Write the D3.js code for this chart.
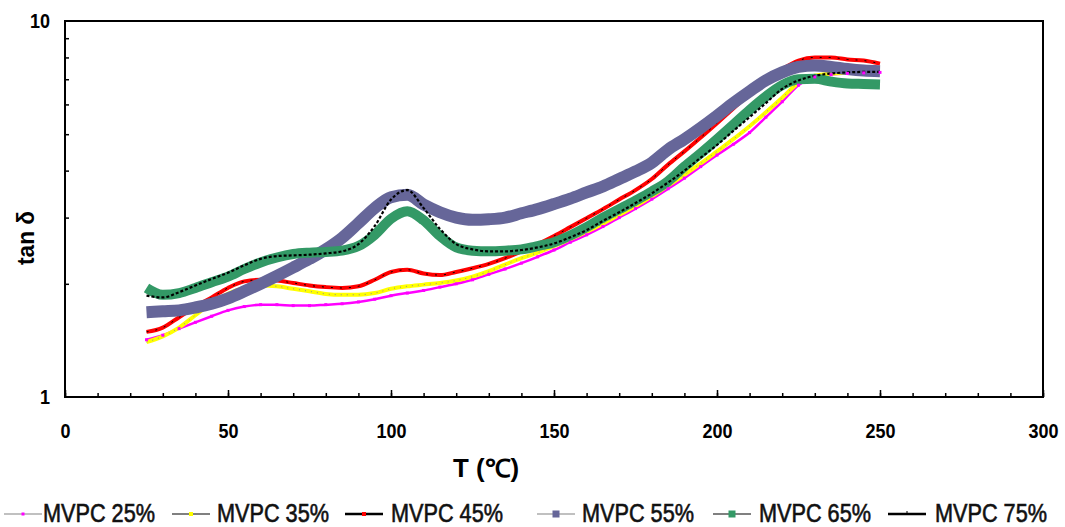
<!DOCTYPE html>
<html><head><meta charset="utf-8">
<script src="https://cdn.jsdelivr.net/npm/d3@7"></script>
<style>
body{margin:0;background:#fff}
.tk text{font-family:"Liberation Sans Narrow","Arial Narrow","Liberation Sans",sans-serif;font-weight:bold;font-size:21px;fill:#000}
</style>
</head><body>
<svg id="c" width="1065" height="527"></svg>
<script>
const temps = [25,30,35,40,45,50,55,60,65,70,75,80,85,90,95,100,105,110,115,120,125,130,135,140,145,150,155,160,165,170,175,180,185,190,195,200,205,210,215,220,225,230,235,240,245,250];
const mvpc25 = [1.42,1.46,1.52,1.58,1.64,1.70,1.74,1.76,1.76,1.75,1.75,1.76,1.77,1.79,1.82,1.86,1.89,1.92,1.96,2.00,2.05,2.12,2.19,2.27,2.36,2.46,2.58,2.70,2.84,3.00,3.17,3.36,3.58,3.82,4.10,4.40,4.70,5.05,5.55,6.10,6.75,7.10,7.20,7.25,7.28,7.30];
const mvpc35 = [1.40,1.45,1.53,1.65,1.78,1.88,1.95,1.98,1.97,1.94,1.91,1.88,1.87,1.87,1.89,1.94,1.97,1.99,2.01,2.04,2.09,2.16,2.25,2.34,2.42,2.52,2.63,2.75,2.89,3.05,3.22,3.42,3.65,3.90,4.18,4.50,4.85,5.25,5.72,6.25,6.85,7.15,7.25,7.28,7.30,7.30];
const mvpc45 = [1.49,1.53,1.63,1.74,1.84,1.95,2.03,2.05,2.04,2.01,1.98,1.96,1.95,1.97,2.05,2.15,2.18,2.13,2.11,2.15,2.20,2.26,2.34,2.44,2.55,2.68,2.83,2.99,3.16,3.35,3.55,3.80,4.15,4.50,4.90,5.35,5.85,6.40,6.95,7.45,7.85,8.00,8.00,7.90,7.85,7.70];
const mvpc55 = [1.68,1.69,1.70,1.73,1.77,1.83,1.91,2.00,2.10,2.21,2.33,2.47,2.65,2.90,3.18,3.40,3.45,3.25,3.10,3.00,2.96,2.97,3.00,3.08,3.16,3.26,3.37,3.50,3.63,3.80,3.98,4.20,4.55,4.85,5.20,5.60,6.05,6.50,6.95,7.30,7.55,7.62,7.55,7.45,7.38,7.35];
const mvpc65 = [1.95,1.87,1.89,1.95,2.02,2.09,2.19,2.28,2.35,2.40,2.42,2.43,2.45,2.52,2.70,2.98,3.12,2.95,2.68,2.50,2.45,2.44,2.45,2.47,2.52,2.58,2.69,2.83,3.00,3.16,3.33,3.52,3.75,4.10,4.45,4.85,5.30,5.80,6.30,6.75,7.00,7.02,6.90,6.82,6.80,6.78];
const mvpc75 = [1.86,1.84,1.90,1.98,2.06,2.14,2.24,2.33,2.37,2.38,2.39,2.41,2.44,2.55,2.85,3.35,3.55,3.18,2.80,2.55,2.47,2.44,2.44,2.46,2.50,2.56,2.66,2.78,2.94,3.10,3.28,3.48,3.72,4.00,4.33,4.68,5.10,5.55,6.05,6.60,6.95,7.15,7.25,7.30,7.32,7.32];
const seriesNames = ["MVPC 25%","MVPC 35%","MVPC 45%","MVPC 55%","MVPC 65%","MVPC 75%"];
const xTickLabels = [0,50,100,150,200,250,300];
const xMinorTicks = [0,10,20,30,40,50,60,70,80,90,100,110,120,130,140,150,160,170,180,190,200,210,220,230,240,250,260,270,280,290,300];
const yTickLabels = [1,10];
const yMinorTicks = [2,3,4,5,6,7,8,9];

const svg = d3.select("#c");
const L = 65, R = 1043, T = 21, B = 397;
const x = d3.scaleLinear().domain([0,300]).range([L,R]);
const y = d3.scaleLog().domain([1,10]).range([B,T]);

const seriesData = [mvpc25,mvpc35,mvpc45,mvpc55,mvpc65,mvpc75].map(vals => temps.map((t,i)=>[t,vals[i]]));
const line = d3.line().x(d=>x(d[0])).y(d=>y(d[1])).curve(d3.curveMonotoneX);

const styles = [
  [{c:"#ff00ff",w:2.5}],
  [{c:"#ffff00",w:4},{c:"#909090",w:1,dash:"1,5"}],
  [{c:"#ff0000",w:4},{c:"#000",w:1,dash:"2,7"}],
  [{c:"#666699",w:12}],
  [{c:"#339966",w:10}],
  [{c:"#000",w:2.2,dash:"3,2"}]
];
const plot = svg.append("g");
seriesData.forEach((d,i)=>{
  styles[i].forEach(s=>{
    plot.append("path").datum(d).attr("d",line).attr("fill","none")
      .attr("stroke",s.c).attr("stroke-width",s.w)
      .attr("stroke-dasharray",s.dash||null).attr("stroke-linejoin","round");
  });
});
plot.selectAll("rect.m25").data(seriesData[0]).join("rect")
  .attr("x",d=>x(d[0])-1.5).attr("y",d=>y(d[1])-1.5).attr("width",3).attr("height",3).attr("fill","#ff00ff");

svg.append("rect").attr("x",L).attr("y",T).attr("width",R-L).attr("height",B-T)
  .attr("fill","none").attr("stroke","#000").attr("stroke-width",2);

const fitText = (sel, per) => sel.each(function(){
  const t = d3.select(this); const s = t.text();
  t.attr("textLength", s.length*per).attr("lengthAdjust","spacingAndGlyphs");
});

svg.append("g").attr("transform",`translate(0,${B})`)
  .call(d3.axisBottom(x).tickValues(xMinorTicks).tickSize(-4).tickFormat(""))
  .call(g=>{g.select(".domain").remove(); g.selectAll("line").attr("stroke-width",1.5);});
svg.append("g").attr("class","tk").attr("transform",`translate(0,${B})`)
  .call(d3.axisBottom(x).tickValues(xTickLabels).tickSize(-7).tickPadding(26).tickFormat(d3.format("d")))
  .call(g=>{g.select(".domain").remove(); g.selectAll("line").attr("stroke-width",1.5); fitText(g.selectAll("text"),10);});

svg.append("g").attr("transform",`translate(${L},0)`)
  .call(d3.axisLeft(y).tickValues(yMinorTicks).tickSize(-4).tickFormat(""))
  .call(g=>{g.select(".domain").remove(); g.selectAll("line").attr("stroke-width",1.5);});
svg.append("g").attr("class","tk").attr("transform",`translate(${L},0)`)
  .call(d3.axisLeft(y).tickValues(yTickLabels).tickSize(0).tickPadding(15).tickFormat(d3.format("d")))
  .call(g=>{g.select(".domain").remove(); fitText(g.selectAll("text"),10);});

svg.append("text").attr("x",486).attr("y",477).attr("text-anchor","middle")
  .attr("font-family","'Liberation Sans Narrow','Arial Narrow',sans-serif").attr("font-weight","bold")
  .attr("font-size",25).attr("textLength",66).attr("lengthAdjust","spacingAndGlyphs").text("T (℃)");
svg.append("text").attr("transform","translate(34,238) rotate(-90)").attr("text-anchor","middle")
  .attr("font-family","'Liberation Sans',Arial,sans-serif").attr("font-weight","bold")
  .attr("font-size",23).attr("textLength",54).attr("lengthAdjust","spacingAndGlyphs").text("tan δ");

const legLineX = [4,172,345,537,713,888];
const legTextX = [43,217,391,582,759,935];
const legLine = ["#c0c0c0","#808080","#000","#c0c0c0","#808080","#000"];
const legMark = ["#ff00ff","#ffff00","#ff0000","#666699","#339966","#000"];
const legMs = [3,4,4,7,7,0];
const lg = svg.append("g");
seriesNames.forEach((n,i)=>{
  const g = lg.append("g").attr("transform",`translate(${legLineX[i]},514)`);
  g.append("line").attr("x1",0).attr("x2",38).attr("y1",0).attr("y2",0).attr("stroke",legLine[i]).attr("stroke-width",legLine[i]==="#000"?2.5:2);
  if(legMs[i]>0) g.append("rect").attr("x",19-legMs[i]/2).attr("y",-legMs[i]/2).attr("width",legMs[i]).attr("height",legMs[i]).attr("fill",legMark[i]);
  else g.append("line").attr("x1",19).attr("x2",19).attr("y1",-3).attr("y2",0).attr("stroke","#000");
  lg.append("text").attr("x",legTextX[i]).attr("y",522).attr("font-family","'Liberation Sans Narrow','Arial Narrow',sans-serif")
    .attr("font-size",25).attr("fill","#111").attr("stroke","#111").attr("stroke-width",0.6)
    .attr("textLength",112).attr("lengthAdjust","spacingAndGlyphs").text(n);
});
</script>
</body></html>
